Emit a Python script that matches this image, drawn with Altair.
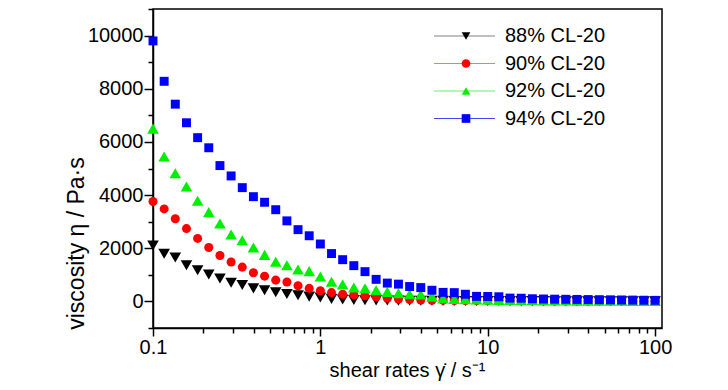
import altair as alt
import pandas as pd

# shear-rate grid (s^-1), 15 points per decade
shear_rate = [0.1, 0.1166, 0.1359, 0.1585, 0.1848, 0.2154, 0.2512, 0.2929, 0.3415, 0.3981,
              0.4642, 0.5412, 0.6310, 0.7356, 0.8577, 1.0, 1.166, 1.359, 1.585, 1.848,
              2.154, 2.512, 2.929, 3.415, 3.981, 4.642, 5.412, 6.310, 7.356, 8.577,
              10.0, 11.66, 13.59, 15.85, 18.48, 21.54, 25.12, 29.29, 34.15, 39.81,
              46.42, 54.12, 63.10, 73.56, 85.77, 100.0]

series_names = ["88% CL-20", "90% CL-20", "92% CL-20", "94% CL-20"]

visc_88 = [2100, 1790, 1650, 1360, 1170, 1010, 865, 700, 620, 490,
           420, 345, 280, 235, 180, 150, 95, 70, 55, 45,
           40, 35, 30, 28, 25, 22, 20, 18, 16, 15,
           14, 13, 12, 11, 10, 10, 9, 9, 8, 8,
           7, 7, 6, 6, 5, 5]
visc_90 = [3760, 3480, 3110, 2740, 2370, 2030, 1730, 1480, 1290, 1080,
           950, 800, 730, 590, 490, 400, 330, 270, 250, 210,
           175, 120, 90, 70, 55, 45, 40, 36, 33, 30,
           28, 26, 24, 22, 20, 19, 18, 17, 16, 15,
           14, 13, 12, 11, 10, 10]
visc_92 = [6500, 5450, 4820, 4320, 3790, 3360, 2930, 2520, 2300, 2030,
           1750, 1490, 1360, 1200, 1140, 940, 740, 640, 520, 490,
           420, 360, 310, 270, 260, 180, 110, 90, 80, 70,
           62, 56, 50, 46, 42, 38, 35, 32, 30, 28,
           26, 24, 22, 20, 18, 16]
visc_94 = [9800, 8280, 7420, 6720, 6160, 5780, 5110, 4720, 4280, 3940,
           3730, 3450, 3030, 2700, 2470, 2160, 1800, 1570, 1345, 1120,
           830, 690, 650, 560, 520, 420, 340, 330, 270, 190,
           185, 175, 125, 120, 100, 90, 85, 80, 75, 70,
           65, 60, 55, 50, 45, 40]

marker_colors = ["#000000", "#ff0000", "#00ee00", "#0000ff"]
line_colors = ["#808080", "#ff7373", "#66ee66", "#4444ff"]
shapes = ["triangle-down", "circle", "triangle-up", "square"]
sizes = [135, 82, 135, 80]

x_ticks = [0.1, 0.2, 0.3, 0.4, 0.5, 0.6, 0.7, 0.8, 0.9,
           1, 2, 3, 4, 5, 6, 7, 8, 9,
           10, 20, 30, 40, 50, 60, 70, 80, 90, 100]
y_ticks = list(range(-1000, 11001, 1000))

FONT = "Liberation Sans, Arial, sans-serif"

all_vals = [visc_88, visc_90, visc_92, visc_94]
rows = []
for k, (name, vals) in enumerate(zip(series_names, all_vals)):
    for x, v in zip(shear_rate, vals):
        rows.append({"series": name, "rate": x, "visc": v, "k": k})
df = pd.DataFrame(rows)

xscale = alt.Scale(type="log", domain=[0.1, 110], nice=False)
yscale = alt.Scale(domain=[-1000, 11000], nice=False, zero=False)

xaxis = alt.Axis(
    values=x_ticks,
    labelExpr="datum.value == 0.1 ? '0.1' : datum.value == 1 ? '1' : datum.value == 10 ? '10' : datum.value == 100 ? '100' : ''",
    tickSize={"condition": {"test": "indexof([0.1,1,10,100], datum.value) >= 0", "value": 8}, "value": 5},
    title="shear rates γ̇ / s⁻¹",
    titleX=254, titleY=42, titleBaseline="middle", titleAlign="center", titleFontSize=20,
    labelFlush=False, labelOverlap=False, labelPadding=1,
)
yaxis = alt.Axis(
    values=y_ticks,
    labelExpr="(datum.value % 2000 == 0 && datum.value >= 0) ? format(datum.value, 'd') : ''",
    tickSize={"condition": {"test": "datum.value % 2000 == 0", "value": 9}, "value": 5},
    title="viscosity η / Pa·s",
    titleX=-77, titleY=234, titleBaseline="middle", titleAlign="center", titleFontSize=23,
    labelFlush=False, labelOverlap=False, labelPadding=1,
)

layers = []
for k, name in enumerate(series_names):
    layer = alt.Chart(df[df["series"] == name]).mark_point(
        filled=True, shape=shapes[k], size=sizes[k], color=marker_colors[k], opacity=1
    ).encode(
        x=alt.X("rate:Q", scale=xscale, axis=xaxis),
        y=alt.Y("visc:Q", scale=yscale, axis=yaxis),
    )
    layers.append(layer)

# legend drawn inside the plot
legend_df = pd.DataFrame({"series": series_names, "row": [0, 1, 2, 3]})
leg_base = alt.Chart(legend_df).transform_calculate(py="27 + datum.row * 27.5")
leg_rule = leg_base.mark_rule(strokeWidth=1).encode(
    x=alt.value(281), x2=alt.value(342),
    y=alt.Y("py:Q", scale=None),
    stroke=alt.Stroke("series:N", scale=alt.Scale(domain=series_names, range=line_colors), legend=None),
)
leg_pt = leg_base.mark_point(filled=True, size=75, opacity=1).encode(
    x=alt.value(313),
    y=alt.Y("py:Q", scale=None),
    shape=alt.Shape("series:N", scale=alt.Scale(domain=series_names, range=shapes), legend=None),
    fill=alt.Fill("series:N", scale=alt.Scale(domain=series_names, range=marker_colors), legend=None),
)
leg_txt = leg_base.mark_text(align="left", baseline="middle", fontSize=20, font=FONT, color="black").encode(
    x=alt.value(352),
    y=alt.Y("py:Q", scale=None),
    text="series:N",
)

chart = alt.layer(*layers, leg_rule, leg_pt, leg_txt).properties(
    width=509, height=319,
    padding={"left": 145, "top": 1, "right": 58, "bottom": 54},
    autosize="none",
).configure_view(
    stroke="black", strokeWidth=1.5
).configure_axis(
    domainColor="black", domainWidth=1.5, tickColor="black", tickWidth=1.5,
    labelFont=FONT, labelFontSize=20, labelColor="black",
    titleFont=FONT, titleFontWeight="normal", titleColor="black",
    grid=False,
)

chart.save("out.html", embed_options={"renderer": "svg", "actions": False})
